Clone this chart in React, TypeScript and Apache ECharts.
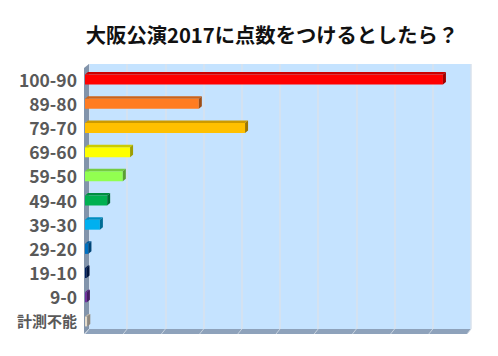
import React, { useEffect, useRef } from "react";
import * as echarts from "echarts";

const title = "大阪公演2017に点数をつけるとしたら？";
const categories = ["100-90", "89-80", "79-70", "69-60", "59-50", "49-40", "39-30", "29-20", "19-10", "9-0", "計測不能"];
const values = [93.7, 29.8, 41.9, 11.8, 9.9, 5.8, 3.9, 0.9, 0.4, 0.5, 0.6];
const colors = ["#FF0000", "#FF7C22", "#FFC000", "#FFFF00", "#92FF50", "#00B050", "#00B0F0", "#0070C0", "#002060", "#7030A0", "#E6DCCB"];
const axisMax = 100;
const axisStep = 10;

function shade(hex: string, f: number): string {
  const n = parseInt(hex.slice(1), 16);
  const r = Math.round(((n >> 16) & 255) * f);
  const g = Math.round(((n >> 8) & 255) * f);
  const b = Math.round((n & 255) * f);
  return `rgb(${r},${g},${b})`;
}

const FONT = '"Noto Sans CJK JP", "Noto Sans", sans-serif';

export default function App() {
  const ref = useRef<HTMLDivElement>(null);
  useEffect(() => {
    document.body.style.margin = "0";
    const chart = echarts.init(ref.current!, null, { renderer: "svg" });
    const option: any = {
      animation: false,
      backgroundColor: "#FFFFFF",
      title: {
        text: title,
        left: 267,
        top: 19,
        textAlign: "center",
        textStyle: { fontFamily: FONT, fontWeight: "bold", fontSize: 20.3, color: "#111111" },
      },
      grid: [
        { left: 89, right: 27, top: 64, bottom: 27, show: true, backgroundColor: "#C5E3FF", borderWidth: 0 },
        { left: 85, right: 31, top: 67, bottom: 23, show: false },
      ],
      xAxis: [
        {
          gridIndex: 0, type: "value", min: 0, max: axisMax, interval: axisStep,
          axisLine: { show: false }, axisTick: { show: false }, axisLabel: { show: false },
          splitLine: { show: true, lineStyle: { color: "#D8E2EC", width: 1.5 } },
        },
        { gridIndex: 1, type: "value", min: 0, max: axisMax, show: false, splitLine: { show: false } },
      ],
      yAxis: [
        { gridIndex: 0, type: "category", data: categories, show: false },
        {
          gridIndex: 1, type: "category", data: categories, inverse: true,
          axisLine: { show: false }, axisTick: { show: false }, splitLine: { show: false },
          axisLabel: {
            margin: 8,
            fontFamily: FONT, fontWeight: "bold", fontSize: 17.5, color: "#595959",
            formatter: (v: string) => (v === "計測不能" ? `{s|${v}}` : v),
            rich: { s: { fontFamily: FONT, fontWeight: "bold", fontSize: 15, color: "#595959" } },
          },
        },
      ],
      series: [
        {
          type: "custom",
          xAxisIndex: 1,
          yAxisIndex: 1,
          data: values.map((v, i) => [v, i]),
          encode: { x: 0, y: 1 },
          renderItem: (params: any, api: any) => {
            const v = api.value(0);
            const idx = api.value(1);
            const end = api.coord([v, idx]);
            const start = api.coord([0, idx]);
            const cy = end[1];
            const h = 10;
            const top = cy - 4.5;
            const dx = 3;
            const dy = 2.5;
            const c = colors[idx];
            return {
              type: "group",
              children: [
                { type: "rect", shape: { x: start[0], y: top, width: Math.max(end[0] - start[0], 0.5), height: h }, style: { fill: c } },
                {
                  type: "polygon",
                  shape: { points: [[start[0], top], [end[0], top], [end[0] + dx, top - dy], [start[0] + dx, top - dy]] },
                  style: { fill: shade(c, 0.8) },
                },
                {
                  type: "polygon",
                  shape: { points: [[end[0], top], [end[0] + dx, top - dy], [end[0] + dx, top - dy + h], [end[0], top + h]] },
                  style: { fill: shade(c, 0.62) },
                },
              ],
            };
          },
        },
      ],
    };
    chart.setOption(option);

    const ticks: number[] = [];
    for (let t = 0; t <= axisMax; t += axisStep) ticks.push(t);
    const floorLines = ticks.map((t) => {
      const x = chart.convertToPixel({ xAxisIndex: 0 }, t) as number;
      return { type: "line", z: 1, shape: { x1: x, y1: 329, x2: x - 4, y2: 334 }, style: { stroke: "#C8D3DF", lineWidth: 1 } };
    });
    chart.setOption({
      graphic: [
        { type: "polygon", z: 0, shape: { points: [[89, 329], [471, 329], [467, 334], [85, 334]] }, style: { fill: "#8EA2BB" } },
        { type: "polygon", z: 0, shape: { points: [[84, 68], [89, 64], [89, 329], [84, 334]] }, style: { fill: "#8294AB" } },
        ...floorLines,
      ],
    });
    return () => chart.dispose();
  }, []);
  return <div ref={ref} style={{ width: 498, height: 356 }} />;
}
